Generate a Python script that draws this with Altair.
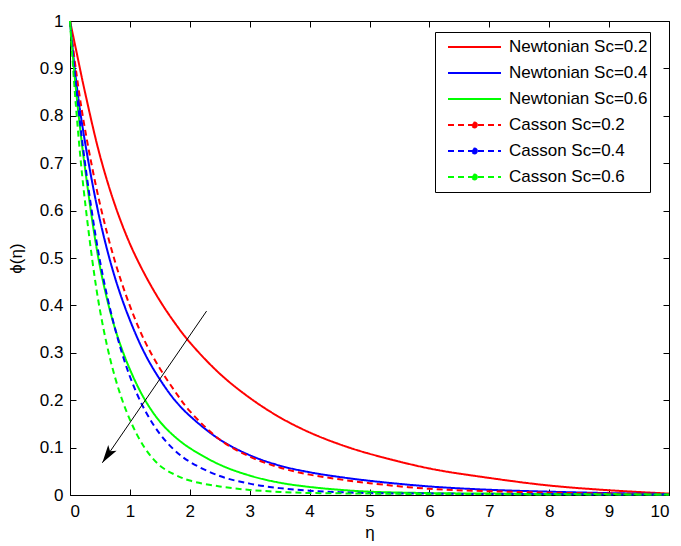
import altair as alt
import pandas as pd

# ---- data ----
eta = [0, 0.1, 0.25, 0.5, 0.75, 1, 1.25, 1.5, 1.75, 2, 2.5, 3, 3.5, 4, 4.5, 5, 6, 7, 8, 9, 10]
newt_02 = [1, 0.94, 0.85, 0.716, 0.612, 0.53, 0.465, 0.41, 0.363, 0.322, 0.256, 0.205, 0.164, 0.132,
           0.107, 0.087, 0.056, 0.036, 0.02, 0.01, 0.003]
newt_04 = [1, 0.876, 0.745, 0.58, 0.459, 0.369, 0.298, 0.244, 0.2, 0.167, 0.117, 0.084, 0.062, 0.048,
           0.038, 0.03, 0.018, 0.011, 0.007, 0.004, 0.002]
newt_06 = [1, 0.855, 0.69, 0.482, 0.352, 0.265, 0.201, 0.155, 0.123, 0.099, 0.064, 0.041, 0.026, 0.017,
           0.011, 0.007, 0.004, 0.003, 0.002, 0.002, 0.001]
cas_02 = [1, 0.896, 0.772, 0.614, 0.493, 0.399, 0.324, 0.267, 0.219, 0.177, 0.117, 0.081, 0.058, 0.043,
          0.033, 0.025, 0.013, 0.008, 0.005, 0.003, 0.002]
cas_04 = [1, 0.865, 0.701, 0.494, 0.352, 0.25, 0.179, 0.129, 0.094, 0.07, 0.04, 0.024, 0.0145, 0.009,
          0.006, 0.004, 0.003, 0.002, 0.002, 0.001, 0.001]
cas_06 = [1, 0.819, 0.62, 0.39, 0.249, 0.159, 0.099, 0.062, 0.043, 0.0305, 0.018, 0.0107, 0.0065, 0.0042,
          0.0035, 0.003, 0.002, 0.002, 0.001, 0.001, 0.001]

series = ["Newtonian Sc=0.2", "Newtonian Sc=0.4", "Newtonian Sc=0.6",
          "Casson Sc=0.2", "Casson Sc=0.4", "Casson Sc=0.6"]
series_values = [newt_02, newt_04, newt_06, cas_02, cas_04, cas_06]
colors = ["#ff0000", "#0000ff", "#00ff00", "#ff0000", "#0000ff", "#00ff00"]
dashes = [[1, 0], [1, 0], [1, 0], [6, 4], [6, 4], [6, 4]]

x_ticks = [0, 1, 2, 3, 4, 5, 6, 7, 8, 9, 10]
y_ticks = [0, 0.1, 0.2, 0.3, 0.4, 0.5, 0.6, 0.7, 0.8, 0.9, 1]

# arrow annotation (start -> tip) in data units
arrow_eta = [2.28, 0.54]
arrow_phi = [0.388, 0.068]

rows = []
for name, vals in zip(series, series_values):
    for e, v in zip(eta, vals):
        rows.append({"eta": e, "phi": v, "series": name})
df = pd.DataFrame(rows)

arrow_df = pd.DataFrame([{"e0": arrow_eta[0], "p0": arrow_phi[0],
                          "e1": arrow_eta[1], "p1": arrow_phi[1]}])
head_df = pd.DataFrame([{"e": arrow_eta[1], "p": arrow_phi[1]}])

W, H = 599, 474
FONT = "Liberation Sans"
xs = alt.Scale(domain=[0, 10], nice=False, zero=False)
ys = alt.Scale(domain=[0, 1], nice=False, zero=False)

# Casson entries: dashed stroke with a dot marker in the middle
casson_symbol = "M-1,0H1M0.09,0A0.09,0.09,0,1,1,-0.09,0A0.09,0.09,0,1,1,0.09,0Z"
shape_expr = "indexof(datum.value,'Casson')>=0 ? '" + casson_symbol + "' : 'stroke'"
color_expr = ("indexof(datum.value,'0.2')>=0 ? '#ff0000' : "
              "(indexof(datum.value,'0.4')>=0 ? '#0000ff' : '#00ff00')")
legend = alt.Legend(
    title=None, orient="none", legendX=365, legendY=11,
    symbolType=alt.ExprRef(expr=shape_expr),
    symbolFillColor=alt.ExprRef(expr=color_expr),
    symbolSize=2809, symbolStrokeWidth=2,
    clipHeight=26, rowPadding=0, padding=2, symbolOffset=10, labelOffset=7,
    labelFontSize=17, labelFont=FONT, labelColor="black",
    strokeColor="black", fillColor="white", cornerRadius=0,
)

lines = alt.Chart(df).mark_line(strokeWidth=2, interpolate="catmull-rom").encode(
    x=alt.X("eta:Q", scale=xs, axis=alt.Axis(
        orient="bottom", values=x_ticks, format="d", title="η",
        offset=-6, tickSize=6, labelPadding=8, titlePadding=5)),
    y=alt.Y("phi:Q", scale=ys, axis=alt.Axis(
        orient="left", values=y_ticks, format=".1~f", title="ϕ(η)",
        offset=-6, tickSize=6, labelPadding=7, titlePadding=14)),
    color=alt.Color("series:N", scale=alt.Scale(domain=series, range=colors), legend=legend),
    strokeDash=alt.StrokeDash("series:N", scale=alt.Scale(domain=series, range=dashes), legend=legend),
    order=alt.Order("eta:Q"),
)

shaft = alt.Chart(arrow_df).mark_rule(color="black", strokeWidth=1).encode(
    x=alt.X("e0:Q", scale=xs, axis=alt.Axis(
        orient="top", values=x_ticks, labels=False, title=None,
        offset=-6, tickSize=6)),
    y=alt.Y("p0:Q", scale=ys, axis=alt.Axis(
        orient="right", values=y_ticks, labels=False, title=None,
        offset=-6, tickSize=6)),
    x2="e1:Q",
    y2="p1:Q",
)

head = alt.Chart(head_df).mark_point(
    shape="M0,0L0.42,1.5L0,1.15L-0.42,1.5Z", filled=True, color="black",
    opacity=1, size=576, angle=214,
).encode(
    x=alt.X("e:Q", scale=xs, axis=None),
    y=alt.Y("p:Q", scale=ys, axis=None),
)

chart = alt.layer(lines, shaft, head).resolve_axis(
    x="independent", y="independent"
).properties(
    width=W, height=H,
    padding={"left": 62, "top": 13, "right": 4, "bottom": 48},
    autosize=alt.AutoSizeParams(type="none"),
).configure_view(
    stroke="black", strokeWidth=1
).configure_axis(
    labelFont=FONT, titleFont=FONT, labelFontSize=17, titleFontSize=17,
    labelColor="black", titleColor="black", tickColor="black",
    titleFontWeight="normal", grid=False, domain=False,
)

chart.save("out.html", embed_options={"renderer": "svg", "actions": False})
